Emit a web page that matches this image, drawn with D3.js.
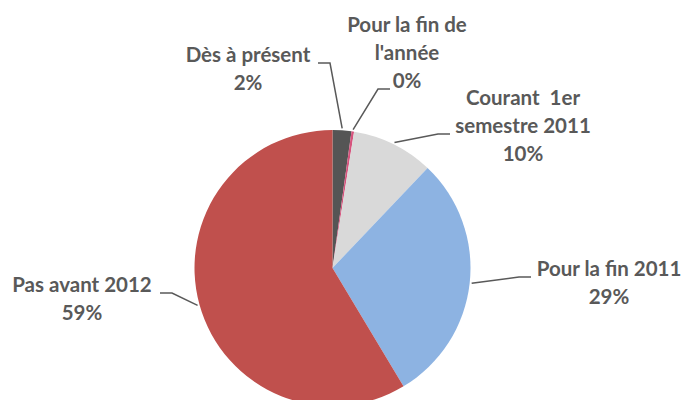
<!DOCTYPE html>
<html>
<head>
<meta charset="utf-8">
<script src="https://cdn.jsdelivr.net/npm/d3@7"></script>
<style>
  body { margin: 0; background: #fff; }
  svg { display: block; }
  .label { font-family: Lato, "Open Sans", sans-serif; font-weight: bold; fill: #595959; white-space: pre; }
  .leader { fill: none; stroke: #595959; stroke-width: 1.5; }
</style>
</head>
<body>
<svg width="686" height="400"></svg>
<script>
// categories and values (percent)
var categories = ["Dès à présent", "Pour la fin de l'année", "Courant 1er semestre 2011", "Pour la fin 2011", "Pas avant 2012"];
var values = [2.2, 0.3, 9.6, 29.3, 58.6];
var labelLines = [["Dès à présent"], ["Pour la fin de", "l'année"], ["Courant  1er", "semestre 2011"], ["Pour la fin 2011"], ["Pas avant 2012"]];
var colors = ["#555555", "#d6537d", "#d9d9d9", "#8db3e2", "#c0504d"];

// label placement: anchor x, first baseline, start of leader line
var labelPos = [
  {x: 248, y: 62, lx: 318, side: 1},
  {x: 407, y: 32, lx: 390, side: -1},
  {x: 523, y: 105, lx: 450, side: -1},
  {x: 609, y: 276, lx: 531, side: -1},
  {x: 82, y: 292, lx: 160, side: 1}
];

var svg = d3.select("svg");
var cx = 332.5, cy = 268, radius = 138, lineH = 28;

var pie = d3.pie().sort(null).value(function(d) { return d; });
var arcs = pie(values);
var arc = d3.arc().innerRadius(0).outerRadius(radius);

var g = svg.append("g").attr("transform", "translate(" + cx + "," + cy + ")");

g.selectAll("path.slice")
    .data(arcs)
  .enter().append("path")
    .attr("class", "slice")
    .attr("fill", function(d, i) { return colors[i]; })
    .attr("d", arc);

// leader lines: from the label to the rim at the slice's mid angle
arcs.forEach(function(a, i) {
  var p = labelPos[i];
  var mid = (a.startAngle + a.endAngle) / 2;
  var ex = cx + Math.sin(mid) * (radius + 2),
      ey = cy - Math.cos(mid) * (radius + 2);
  // line sits next to the last name line (the one above the percentage)
  var ly = p.y + (labelLines[i].length - 1) * lineH + 1;
  if (i === 1) ly += lineH;
  var kx = p.lx + p.side * 12;
  svg.append("polyline")
      .attr("class", "leader")
      .attr("points", [[p.lx, ly], [kx, ly], [ex, ey]].map(function(q) { return q.join(","); }).join(" "));
});

// labels
arcs.forEach(function(a, i) {
  var p = labelPos[i];
  var t = svg.append("text")
      .attr("class", "label")
      .attr("text-anchor", "middle")
      .style("font-size", "20.5px");
  var lines = labelLines[i].concat([Math.round(a.data) + "%"]);
  lines.forEach(function(s, j) {
    t.append("tspan")
        .attr("x", p.x)
        .attr("y", p.y + j * lineH)
        .text(s);
  });
});
</script>
</body>
</html>
